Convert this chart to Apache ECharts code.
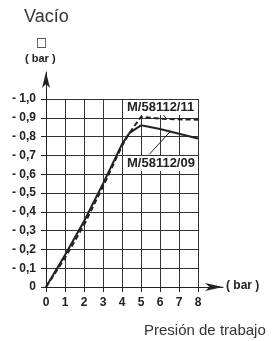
<!DOCTYPE html>
<html>
<head>
<meta charset="utf-8">
<script src="https://cdn.jsdelivr.net/npm/echarts@6/dist/echarts.min.js"></script>
<style>
  html, body { margin: 0; padding: 0; background: #fff; }
  #chart { width: 273px; height: 341px; }
</style>
</head>
<body>
<div id="chart"></div>
<script>
// M/58112/09 (solid)
const pressure09 = [0, 1, 2, 3, 4, 4.4, 5, 6, 7, 8]
const vacuum09 = [0, 0.17, 0.35, 0.55, 0.76, 0.82, 0.86, 0.84, 0.815, 0.79]
// M/58112/11 (dashed)
const pressure11 = [0, 1, 2, 3, 4, 4.4, 5, 5.5, 6, 7, 8]
const vacuum11 = [0, 0.155, 0.33, 0.535, 0.75, 0.82, 0.905, 0.9, 0.895, 0.892, 0.89]
const xTicks = ['0', '1', '2', '3', '4', '5', '6', '7', '8']

const ink = '#222'
const font = 'Liberation Sans, Arial, sans-serif'

let myChart = echarts.init(document.getElementById('chart'))
myChart.setOption({
  backgroundColor: '#fff',
  animation: false,
  grid: [
    { left: 46, top: 99, width: 152, height: 188, show: false },
    // grid only used for the arrow axes
    { left: 46, top: 72, width: 177, height: 215, show: false }
  ],
  xAxis: [
    {
      type: 'value',
      gridIndex: 0,
      min: 0,
      max: 8,
      interval: 1,
      axisLine: { onZero: false, lineStyle: { color: ink, width: 1 } },
      axisTick: { show: true, length: 5, lineStyle: { color: ink } },
      axisLabel: {
        margin: 10,
        color: ink,
        fontFamily: font,
        fontWeight: 'bold',
        fontSize: 12,
        formatter: v => xTicks[v]
      },
      splitLine: { show: true, lineStyle: { color: '#333', width: 1 } }
    },
    {
      type: 'value',
      gridIndex: 1,
      min: 0,
      max: 1,
      axisLine: {
        onZero: false,
        symbol: ['none', 'arrow'],
        symbolSize: [6, 18],
        lineStyle: { color: ink, width: 1 }
      },
      axisTick: { show: false },
      axisLabel: { show: false },
      splitLine: { show: false }
    }
  ],
  yAxis: [
    {
      type: 'value',
      gridIndex: 0,
      min: 0,
      max: 1,
      interval: 0.1,
      axisLine: { show: true, onZero: false, lineStyle: { color: ink, width: 1 } },
      axisTick: { show: true, length: 5, lineStyle: { color: ink } },
      axisLabel: {
        margin: 10,
        color: ink,
        fontFamily: font,
        fontWeight: 'bold',
        fontSize: 12,
        formatter: v => v === 0 ? '0' : '- ' + v.toFixed(1).replace('.', ',')
      },
      splitLine: { show: true, lineStyle: { color: '#333', width: 1 } }
    },
    {
      type: 'value',
      gridIndex: 1,
      min: 0,
      max: 1,
      axisLine: {
        show: true,
        onZero: false,
        symbol: ['none', 'arrow'],
        symbolSize: [6, 16],
        lineStyle: { color: ink, width: 1 }
      },
      axisTick: { show: false },
      axisLabel: { show: false },
      splitLine: { show: false }
    }
  ],
  series: [
    {
      id: 'm09',
      type: 'line',
      xAxisIndex: 0,
      yAxisIndex: 0,
      symbol: 'none',
      data: pressure09.map((p, i) => [p, vacuum09[i]]),
      lineStyle: { color: ink, width: 2 },
      markLine: {
        silent: true,
        symbol: 'none',
        label: { show: false },
        lineStyle: { color: ink, width: 1, type: 'solid' },
        data: [[{ coord: [5.44, 0.706] }, { coord: [6.53, 0.826] }]]
      }
    },
    {
      id: 'm11',
      type: 'line',
      xAxisIndex: 0,
      yAxisIndex: 0,
      symbol: 'none',
      data: pressure11.map((p, i) => [p, vacuum11[i]]),
      lineStyle: { color: ink, width: 2, type: [5, 3] },
      markLine: {
        silent: true,
        symbol: 'none',
        label: { show: false },
        lineStyle: { color: ink, width: 1, type: 'solid' },
        data: [[{ coord: [6.16, 0.918] }, { coord: [6.35, 0.895] }]]
      }
    }
  ],
  graphic: [
    { type: 'text', left: 24, top: 8, style: { text: 'Vacío', font: '18px ' + font, fill: '#333' } },
    { type: 'text', left: 36, top: 37, style: { text: '□', font: '12px DejaVu Sans', fill: ink } },
    { type: 'text', left: 25, top: 53, style: { text: '( bar )', font: 'bold 11px ' + font, fill: ink } },
    { type: 'text', left: 226, top: 280, style: { text: '( bar )', font: 'bold 12px ' + font, fill: ink } },
    {
      type: 'text', left: 126, top: 100, z: 10,
      style: { text: 'M/58112/11', font: 'bold 13px ' + font, fill: ink, backgroundColor: '#fff', padding: [1, 1] }
    },
    {
      type: 'text', left: 126, top: 156, z: 10,
      style: { text: 'M/58112/09', font: 'bold 13px ' + font, fill: ink, backgroundColor: '#fff', padding: [1, 1] }
    },
    { type: 'text', left: 144, top: 323, style: { text: 'Presión de trabajo', font: '15px ' + font, fill: '#333' } }
  ]
})
</script>
</body>
</html>
